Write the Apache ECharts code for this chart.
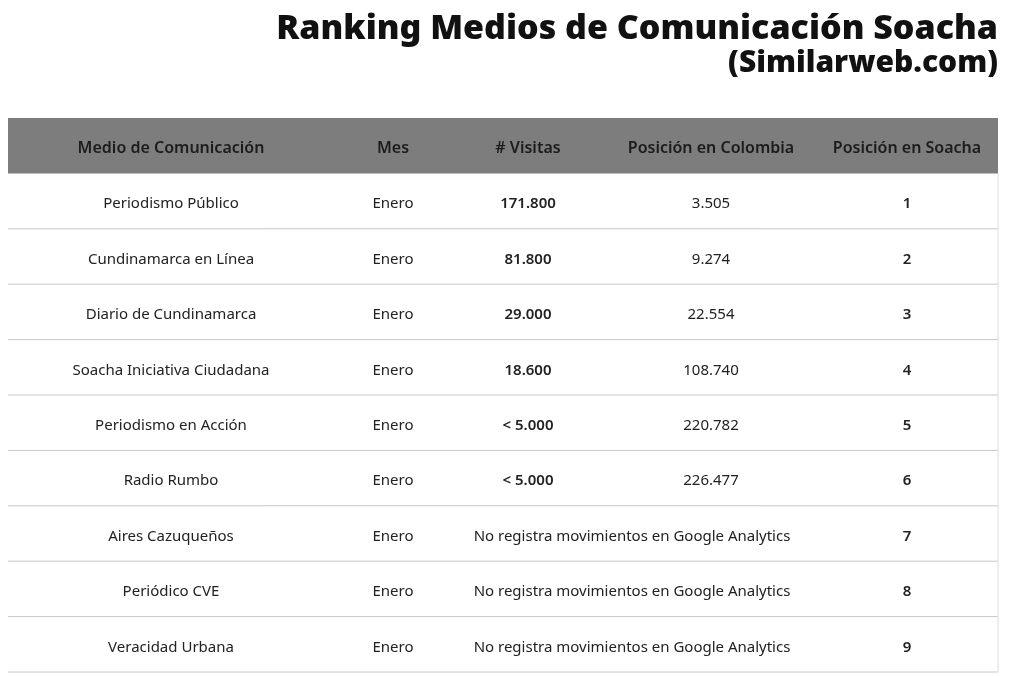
<!DOCTYPE html>
<html><head><meta charset="utf-8">
<script src="https://cdn.jsdelivr.net/npm/echarts@6/dist/echarts.min.js"></script>
<style>html,body{margin:0;background:#fff}#c{width:1024px;height:676px}</style>
</head><body><div id="c"></div>
<script>
var headers = ['Medio de Comunicación', 'Mes', '# Visitas', 'Posición en Colombia', 'Posición en Soacha'];
var medios = ['Periodismo Público', 'Cundinamarca en Línea', 'Diario de Cundinamarca', 'Soacha Iniciativa Ciudadana',
  'Periodismo en Acción', 'Radio Rumbo', 'Aires Cazuqueños', 'Periódico CVE', 'Veracidad Urbana'];
var meses = ['Enero', 'Enero', 'Enero', 'Enero', 'Enero', 'Enero', 'Enero', 'Enero', 'Enero'];
var visitas = ['171.800', '81.800', '29.000', '18.600', '< 5.000', '< 5.000', null, null, null];
var posColombia = ['3.505', '9.274', '22.554', '108.740', '220.782', '226.477', null, null, null];
var posSoacha = ['1', '2', '3', '4', '5', '6', '7', '8', '9'];
var sinDatos = 'No registra movimientos en Google Analytics';

// column centres in table units (0..990)
var colX = [163, 385, 520, 703, 899];
var rows = ['header'].concat(medios);

var chart = echarts.init(document.getElementById('c'));
var font = '"Noto Sans", sans-serif';

function renderRow(params, api) {
  var i = api.value(0);
  var top = api.coord([0, i]);
  var bw = api.size([0, 1])[1];
  var left = params.coordSys.x, w = params.coordSys.width;
  var y0 = top[1] - bw / 2, cy = top[1] + 3;
  var kids = [];
  function tx(col, s, bold, color, size) {
    kids.push({type: 'text', style: {x: left + colX[col] / 990 * w, y: cy, text: s, align: 'center',
      verticalAlign: 'middle', fill: color || '#222', font: (bold ? '600 ' : '400 ') + (size || 15) + 'px ' + font}});
  }
  if (i === 0) {
    kids.push({type: 'rect', shape: {x: left, y: y0, width: w, height: bw}, style: {fill: '#7d7d7d'}});
    headers.forEach(function (h, k) { tx(k, h, true, '#1c1c1c', 16); });
  } else {
    var r = i - 1;
    kids.push({type: 'line', shape: {x1: left, y1: y0 + bw, x2: left + w, y2: y0 + bw}, style: {stroke: '#c8c8c8', lineWidth: 1}});
    kids.push({type: 'line', shape: {x1: left + w, y1: y0, x2: left + w, y2: y0 + bw}, style: {stroke: '#dddddd', lineWidth: 1}});
    tx(0, medios[r]); tx(1, meses[r]);
    if (visitas[r] !== null) { tx(2, visitas[r], true); tx(3, posColombia[r]); }
    else kids.push({type: 'text', style: {x: left + 624 / 990 * w, y: cy, text: sinDatos, align: 'center',
      verticalAlign: 'middle', fill: '#222', font: '400 15px ' + font}});
    tx(4, posSoacha[r], true);
  }
  return {type: 'group', children: kids};
}

chart.setOption({
  animation: false,
  graphic: [
    {type: 'text', right: 26, top: 12, style: {text: 'Ranking Medios de Comunicación Soacha', fill: '#111',
      font: '900 34px ' + font}},
    {type: 'text', right: 26, top: 48, style: {text: '(Similarweb.com)', fill: '#111',
      font: '900 30px ' + font}}
  ],
  grid: {left: 8, right: 26, top: 118, bottom: 4},
  xAxis: {type: 'value', min: 0, max: 990, show: false},
  yAxis: {type: 'category', data: rows, inverse: true, show: false},
  series: [{
    type: 'custom',
    renderItem: renderRow,
    data: rows.map(function (_, i) { return [i]; }),
    encode: {y: 0}
  }]
});
</script></body></html>
